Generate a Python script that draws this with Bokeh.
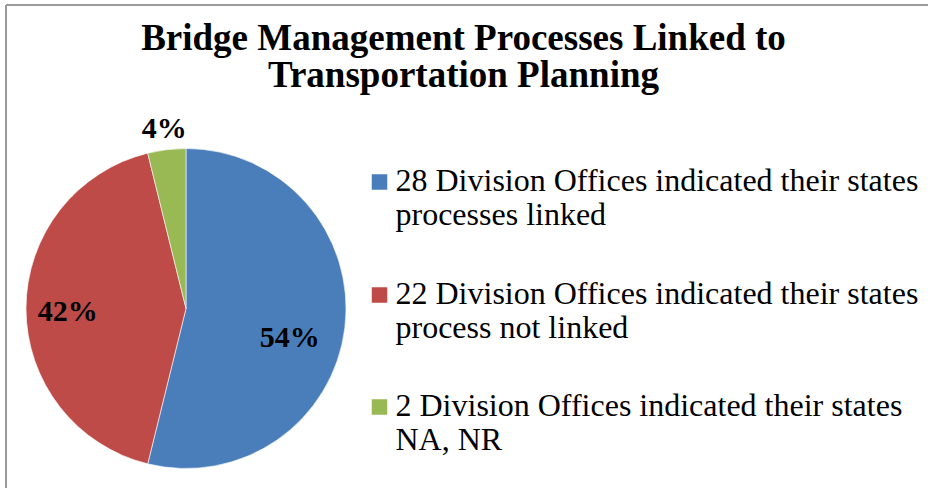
import math
from bokeh.plotting import figure
from bokeh.models import Range1d, ColumnDataSource
from bokeh.core.properties import value
from bokeh.embed import file_html
from bokeh.resources import INLINE

# ---- data ----
title_lines = ["Bridge Management Processes Linked to", "Transportation Planning"]
counts = [28, 22, 2]
legend_lines = [
    ["28 Division Offices indicated their states", "processes linked"],
    ["22 Division Offices indicated their states", "process not linked"],
    ["2 Division Offices indicated their states", "NA, NR"],
]
colors = ["#4A7EBB", "#BE4B48", "#98B954"]

# ---- layout / style ----
W, H = 928, 488
SERIF = value("Liberation Serif")

def px(x):
    return x

def py(y):
    return H - y

def mid_of(baseline, size):
    # vertical centre of digits/caps for a given baseline
    return baseline - 0.34 * size

p = figure(width=W, height=H, output_backend="svg", toolbar_location=None,
           x_range=Range1d(0, W), y_range=Range1d(0, H),
           x_axis_location=None, y_axis_location=None, min_border=0)
p.grid.visible = False
p.outline_line_color = None
p.background_fill_color = "white"

# border (top and left edges, as in the reference)
p.segment(x0=[px(5.5), px(5.5)], y0=[0, py(4.5)], x1=[px(5.5), W], y1=[py(4.5), py(4.5)],
          line_color="#9a9a9a", line_width=2)

# ---- pie ----
cx, cy, R = px(185.5), py(308), 160
total = sum(counts)
fracs = [c / total for c in counts]
starts, ends, mids = [], [], []
acc = 0.0
for f in fracs:
    a0 = math.pi / 2 - 2 * math.pi * acc
    a1 = math.pi / 2 - 2 * math.pi * (acc + f)
    starts.append(a0)
    ends.append(a1)
    mids.append(2 * math.pi * (acc + f / 2))  # clockwise from top
    acc += f

src = ColumnDataSource(dict(start=starts, end=ends, color=colors))
p.wedge(x=cx, y=cy, radius=R, start_angle="start", end_angle="end",
        direction="clock", fill_color="color", line_color="white",
        line_width=0.6, source=src)

# percentage labels
label_r = [0.674, 0.74, 1.13]
label_da = [9.0, -1.5, 0.0]
lx, ly, lt = [], [], []
for f, m, rf, da in zip(fracs, mids, label_r, label_da):
    th = m + math.radians(da)
    lx.append(cx + R * rf * math.sin(th))
    ly.append(cy + R * rf * math.cos(th) + 1.5)
    lt.append(f"{round(f * 100)}%")
p.text(x=lx, y=ly, text=lt, text_font=SERIF, text_font_style="bold",
       text_font_size="30px", text_align="center", text_baseline="middle",
       text_color="black")

# ---- title ----
title_base = [51, 88]
TS = 37
for line, b in zip(title_lines, title_base):
    p.text(x=[px(463)], y=[py(mid_of(b, TS) - 1.5)], text=[line], text_font=SERIF,
           text_font_style="bold", text_font_size=f"{TS}px",
           text_align="center", text_baseline="middle", text_color="black")

# ---- legend ----
item_top = [192, 305, 417]
line_gap = 34
LS = 32
sq_x, sq_dy, sq = 379, -10.5, 15.5
for lines, col, b in zip(legend_lines, colors, item_top):
    p.rect(x=[px(sq_x)], y=[py(b + sq_dy)], width=sq, height=sq,
           fill_color=col, line_color=None)
    for i, t in enumerate(lines):
        p.text(x=[px(395)], y=[py(mid_of(b + i * line_gap, LS) - 1.5)], text=[t],
               text_font=SERIF, text_font_style="normal", text_font_size=f"{LS}px",
               text_align="left", text_baseline="middle", text_color="black")

open("out.html", "w").write(file_html(p, INLINE))
